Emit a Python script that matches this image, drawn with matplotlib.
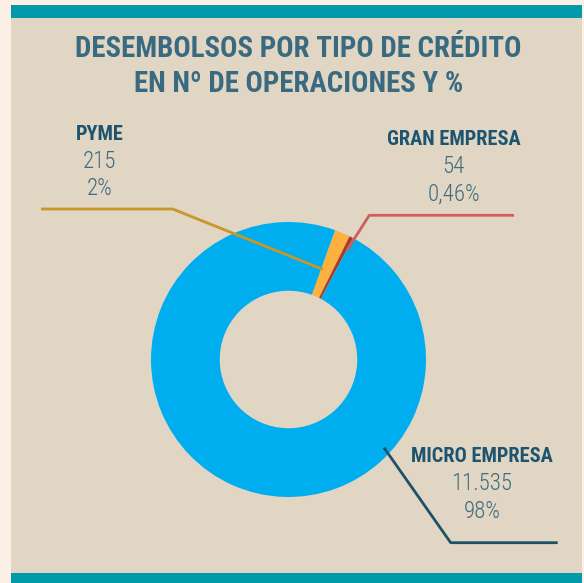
import matplotlib
matplotlib.use("Agg")
import matplotlib.pyplot as plt

# Data
categorias = ["PYME", "GRAN EMPRESA", "MICRO EMPRESA"]
operaciones = [215, 54, 11535]
num_txt = ["215", "54", "11.535"]
pct_txt = ["2%", "0,46%", "98%"]
colores = ["#fbb040", "#a93a2c", "#00aeef"]

W, H = 584, 583
BG = "#e1d6c4"
TEAL = "#009aaa"
TITLE = "#3a6a80"
LABEL = "#1d5470"
NUM = "#3e6b80"

fig = plt.figure(figsize=(W / 100, H / 100), dpi=100, facecolor="#fcefe6")

# background panel (pixel coords, y down)
bg = fig.add_axes([0, 0, 1, 1], zorder=0)
bg.set_xlim(0, W)
bg.set_ylim(H, 0)
bg.axis("off")
bg.add_patch(plt.Rectangle((11, 5), 571, 578, color=BG, lw=0))
bg.add_patch(plt.Rectangle((11, 5), 571, 13, color=TEAL, lw=0))
bg.add_patch(plt.Rectangle((11, 573), 571, 10, color=TEAL, lw=0))

# donut
cx, cy, r = 288.5, 359.5, 137.5
axp = fig.add_axes([(cx - r) / W, (H - cy - r) / H, 2 * r / W, 2 * r / H], zorder=1)
axp.pie(operaciones, colors=colores, startangle=70.2, counterclock=False,
        radius=1, wedgeprops=dict(width=0.5, linewidth=0))
axp.set_xlim(-1, 1)
axp.set_ylim(-1, 1)
axp.set_aspect("equal")
axp.axis("off")

# overlay: leader lines and text
ov = fig.add_axes([0, 0, 1, 1], zorder=2)
ov.set_xlim(0, W)
ov.set_ylim(H, 0)
ov.axis("off")
ov.patch.set_alpha(0)

ov.plot([322.7, 172.7, 41], [269.3, 209, 209], color="#c8962a", lw=2, solid_capstyle="butt")
ov.plot([346.7, 369.3, 514], [250.7, 215.3, 215.3], color="#cf5f5a", lw=2, solid_capstyle="butt")
ov.plot([384, 450.7, 557.7], [447.7, 542.7, 542.7], color="#1e5068", lw=2, solid_capstyle="butt")

ov.text(298, 49, "DESEMBOLSOS POR TIPO DE CRÉDITO", ha="center", va="center",
        family="Roboto Condensed", weight="bold", fontsize=20.8, color=TITLE)
ov.text(299, 84, "EN Nº DE OPERACIONES Y %", ha="center", va="center",
        family="Roboto Condensed", weight="bold", fontsize=20.8, color=TITLE)

pos = [(99.5, 134), (453.5, 139.3), (482, 456.7)]
for (x, y), cat, n, p in zip(pos, categorias, num_txt, pct_txt):
    ov.text(x, y, cat, ha="center", va="center", family="Roboto Condensed",
            weight="bold", fontsize=14.7, color=LABEL)
    ov.text(x, y + 27, n, ha="center", va="center", family="Roboto Condensed",
            weight="light", fontsize=16.5, color=NUM)
    ov.text(x, y + 54.5, p, ha="center", va="center", family="Roboto Condensed",
            weight="light", fontsize=16.5, color=NUM)

fig.savefig("out.png", dpi=100, facecolor=fig.get_facecolor())
